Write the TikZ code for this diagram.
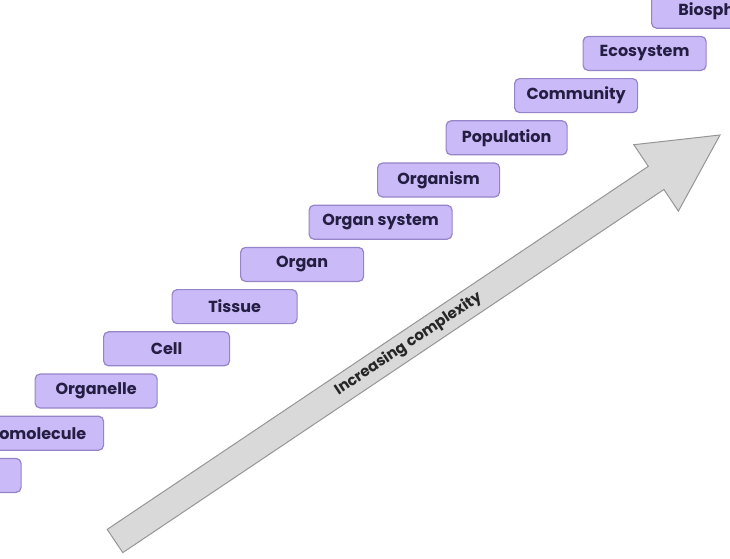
\documentclass[tikz,border=0pt]{standalone}
\usepackage{fontspec}
\setmainfont{Poppins}
\usepackage{tikz}
\usetikzlibrary{positioning}
\usetikzlibrary{calc}
\usepackage{xcolor}

\definecolor{boxfill}{RGB}{203,186,248}
\definecolor{boxedge}{RGB}{150,132,200}
\definecolor{ink}{RGB}{36,30,66}
\definecolor{arrowfill}{RGB}{217,217,217}
\definecolor{arrowedge}{RGB}{150,150,150}

\tikzset{
  level/.style={draw=boxedge, fill=boxfill, rounded corners=5pt, line width=1.2pt,
    minimum height=34pt, minimum width=123pt, inner sep=0pt, anchor=south west,
    text=ink, font=\bfseries\fontsize{16}{18}\selectfont},
  up/.style={shift={(68.5,-7)}}
}

\begin{document}
\begin{tikzpicture}[x=1pt, y=-1pt]
  \useasboundingbox (0,0) rectangle (730,558);
  \clip (0,0) rectangle (730,558);
  \fill[white] (0,0) rectangle (730,558);

  % the staircase of levels
  \node[level] (base) at (-102.5,493) {};
  \node[level, minimum width=137pt] (biomolecule) at ([up]base.north west) {Biomolecule};
  \node[level, minimum width=122pt] (organelle) at ([up]biomolecule.north west) {Organelle};
  \node[level, minimum width=126pt] (cell) at ([up]organelle.north west) {Cell};
  \node[level, minimum width=125pt] (tissue) at ([up]cell.north west) {Tissue};
  \node[level] (organ) at ([up]tissue.north west) {Organ};
  \node[level, minimum width=143pt] (organsystem) at ([up]organ.north west) {Organ system};
  \node[level, minimum width=122pt] (organism) at ([up]organsystem.north west) {Organism};
  \node[level, minimum width=121pt] (population) at ([up]organism.north west) {Population};
  \node[level] (community) at ([up]population.north west) {Community};
  \node[level] (ecosystem) at ([up]community.north west) {Ecosystem};
  \node[level, minimum width=136pt] (biosphere) at ([up]ecosystem.north west) {Biosphere};

  % the big arrow
  \coordinate (tail) at (115,541);
  \coordinate (tip) at (720,135);
  \filldraw[fill=arrowfill, draw=arrowedge, line width=1pt, line join=miter]
    (107.2,529.4) -- (648.3,166.3) -- (633.8,144.7) -- (tip)
    -- (678.4,211.1) -- (663.9,189.5) -- (122.8,552.6) -- cycle;
  \node[rotate=33.7, text=black!85, font=\fontsize{15}{17}\selectfont\bfseries]
    (trend) at ($(tail)!0.485!(tip)$) {Increasing complexity};
\end{tikzpicture}
\end{document}
